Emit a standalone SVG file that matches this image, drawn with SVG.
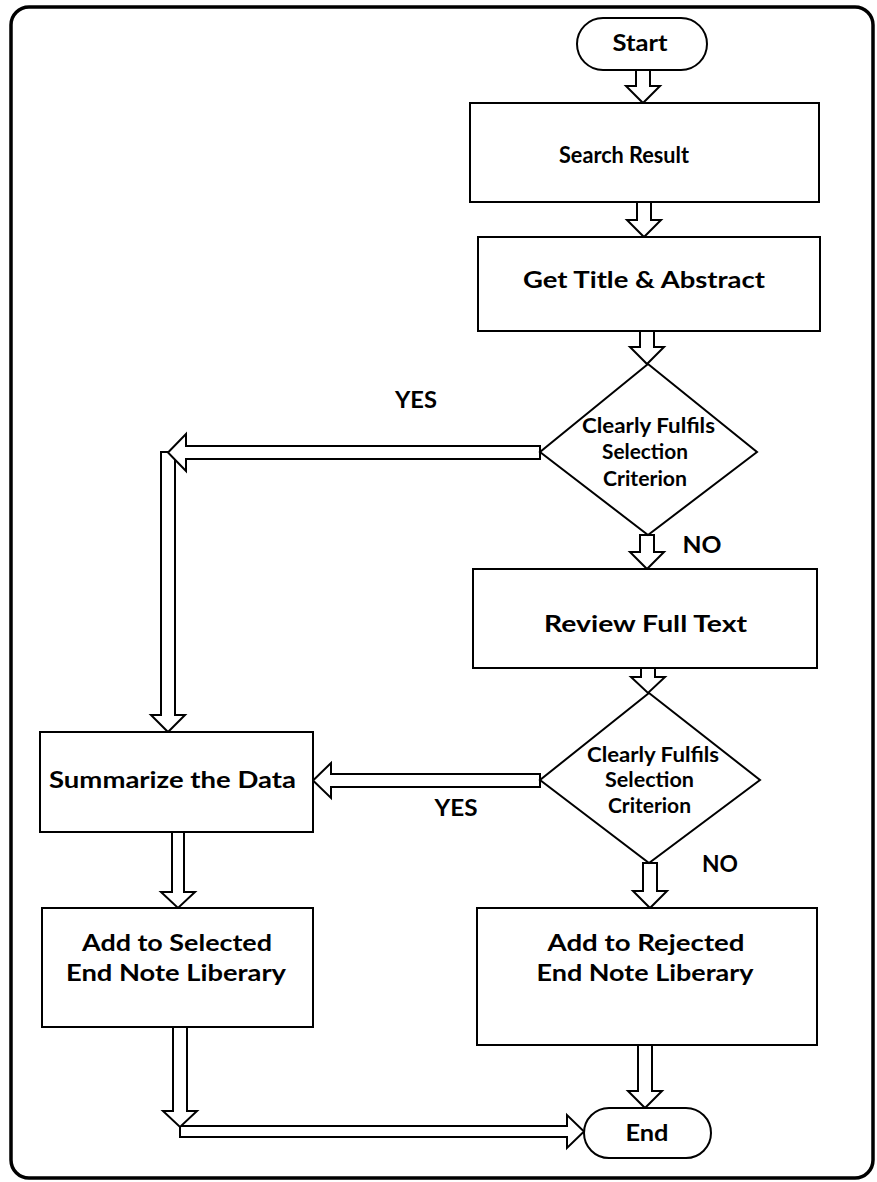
<svg xmlns="http://www.w3.org/2000/svg" width="877" height="1182" viewBox="0 0 877 1182">
  <style>
    .frame { fill: none; stroke: #000; stroke-width: 3.5; }
    .box { fill: #fff; stroke: #000; stroke-width: 2; }
    .arrow { fill: #fff; stroke: #000; stroke-width: 2; stroke-linejoin: miter; }
    .t { font-family: Lato, "Open Sans", "Liberation Sans", sans-serif; font-weight: 700; font-size: 23px; text-anchor: middle; fill: #000; }
    .d { font-size: 20px; }
  </style>
  <rect width="877" height="1182" fill="#fff"/>

  <!-- outer border -->
  <rect class="frame" x="11" y="7" width="862" height="1171" rx="18"/>

  <!-- connectors: hollow block arrows -->
  <g id="connectors">
    <polygon class="arrow" points="636,70 650,70 650,86 660,86 643,103 626,86 636,86"/>
    <polygon class="arrow" points="637,202 651,202 651,220 661,220 644,237 627,220 637,220"/>
    <polygon class="arrow" points="640,331 654,331 654,347 664,347 647,364 630,347 640,347"/>
    <polygon class="arrow" points="640,535 654,535 654,552 664,552 647,569 630,552 640,552"/>
    <polygon class="arrow" points="641,668 655,668 655,677 665,677 648,693 631,677 641,677"/>
    <polygon class="arrow" points="643,863 657,863 657,891 667,891 650,908 633,891 643,891"/>
    <polygon class="arrow" points="638,1045 652,1045 652,1091 662,1091 645,1108 628,1091 638,1091"/>
    <!-- YES branch from first decision, down the left side -->
    <polygon class="arrow" points="161,452 175,452 175,715 185,715 168,732 151,715 161,715"/>
    <polygon class="arrow" points="540,446 186,446 186,434 168,452.5 186,471 186,459 540,459"/>
    <!-- YES branch from second decision -->
    <polygon class="arrow" points="540,774 331,774 331,763 313,780.5 331,798 331,787 540,787"/>
    <polygon class="arrow" points="172,832 184,832 184,892 195,892 178,908 161,892 172,892"/>
    <!-- selected library to End -->
    <polygon class="arrow" points="180,1126 567,1126 567,1115 584,1131.5 567,1148 567,1137 180,1137"/>
    <polygon class="arrow" points="173,1027 187,1027 187,1111 197,1111 180,1127 163,1111 173,1111"/>
  </g>

  <g id="start">
    <rect class="box" x="577" y="18" width="130" height="52" rx="26"/>
    <text class="t" x="640" y="51" textLength="55" lengthAdjust="spacingAndGlyphs">Start</text>
  </g>

  <g id="search-result">
    <rect class="box" x="470" y="103" width="349" height="99"/>
    <text class="t" x="624" y="163" textLength="130" lengthAdjust="spacingAndGlyphs">Search Result</text>
  </g>

  <g id="get-title">
    <rect class="box" x="478" y="237" width="342" height="94"/>
    <text class="t" x="644" y="288" textLength="242" lengthAdjust="spacingAndGlyphs">Get Title &amp; Abstract</text>
  </g>

  <g id="decision-1">
    <polygon class="box" points="648,364 757,452 648,535 540,452"/>
    <text class="t d" x="648.5" y="433" textLength="133" lengthAdjust="spacingAndGlyphs">Clearly Fulfils</text>
    <text class="t d" x="645" y="459" textLength="86" lengthAdjust="spacingAndGlyphs">Selection</text>
    <text class="t d" x="645" y="486" textLength="84" lengthAdjust="spacingAndGlyphs">Criterion</text>
  </g>
  <text class="t" x="416" y="408" textLength="42" lengthAdjust="spacingAndGlyphs">YES</text>
  <text class="t" x="702" y="553" textLength="39" lengthAdjust="spacingAndGlyphs">NO</text>

  <g id="review-full-text">
    <rect class="box" x="473" y="569" width="344" height="99"/>
    <text class="t" x="645.5" y="632" textLength="203" lengthAdjust="spacingAndGlyphs">Review Full Text</text>
  </g>

  <g id="decision-2">
    <polygon class="box" points="649,693 760,780 649,863 540,780"/>
    <text class="t d" x="653" y="762" textLength="132" lengthAdjust="spacingAndGlyphs">Clearly Fulfils</text>
    <text class="t d" x="649.5" y="787" textLength="89" lengthAdjust="spacingAndGlyphs">Selection</text>
    <text class="t d" x="649.5" y="813" textLength="83" lengthAdjust="spacingAndGlyphs">Criterion</text>
  </g>
  <text class="t" x="456" y="816" textLength="43" lengthAdjust="spacingAndGlyphs">YES</text>
  <text class="t" x="720" y="872" textLength="36" lengthAdjust="spacingAndGlyphs">NO</text>

  <g id="summarize">
    <rect class="box" x="40" y="732" width="273" height="100"/>
    <text class="t" x="172.5" y="788" textLength="247" lengthAdjust="spacingAndGlyphs">Summarize the Data</text>
  </g>

  <g id="selected-library">
    <rect class="box" x="42" y="908" width="271" height="119"/>
    <text class="t" x="177" y="951" textLength="190" lengthAdjust="spacingAndGlyphs">Add to Selected</text>
    <text class="t" x="176" y="981" textLength="220" lengthAdjust="spacingAndGlyphs">End Note Liberary</text>
  </g>

  <g id="rejected-library">
    <rect class="box" x="477" y="908" width="340" height="137"/>
    <text class="t" x="646" y="951" textLength="197" lengthAdjust="spacingAndGlyphs">Add to Rejected</text>
    <text class="t" x="645" y="981" textLength="217" lengthAdjust="spacingAndGlyphs">End Note Liberary</text>
  </g>

  <g id="end">
    <rect class="box" x="584" y="1108" width="127" height="50" rx="25"/>
    <text class="t" x="647" y="1141" textLength="43" lengthAdjust="spacingAndGlyphs">End</text>
  </g>
</svg>
